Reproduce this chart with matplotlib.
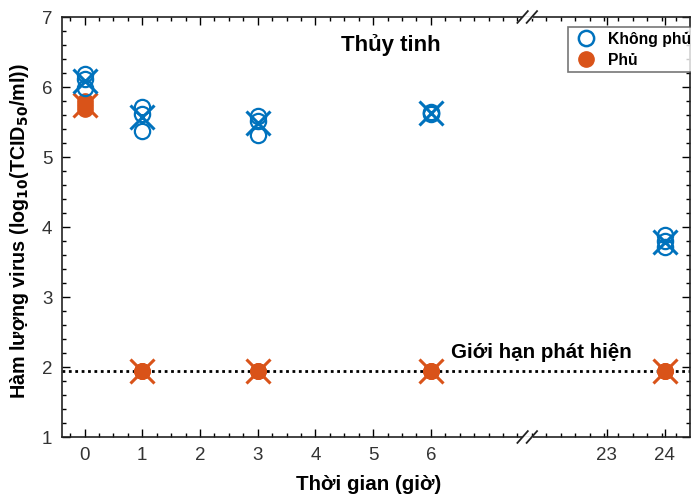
import matplotlib
matplotlib.use("Agg")
import matplotlib.pyplot as plt
import numpy as np
from matplotlib.lines import Line2D

plt.rcParams['font.family'] = ['Liberation Sans', 'DejaVu Sans']

# ---- data ----
times = [0, 1, 3, 6, 24]
uncoated_reps = [
    [6.19, 6.12, 5.98],
    [5.72, 5.62, 5.37],
    [5.58, 5.52, 5.31],
    [5.65, 5.63, 5.62],
    [3.88, 3.80, 3.72],
]
uncoated_mean = [6.08, 5.57, 5.48, 5.63, 3.79]
coated_reps = [
    [5.80, 5.75, 5.68],
    [1.95, 1.95, 1.95],
    [1.95, 1.95, 1.95],
    [1.95, 1.95, 1.95],
    [1.95, 1.95, 1.95],
]
coated_mean = [5.74, 1.95, 1.95, 1.95, 1.95]
lod = 1.95
xtick_vals = [0, 1, 2, 3, 4, 5, 6, 23, 24]
legend_labels = ['Không phủ', 'Phủ']

BLUE = '#0072BD'
ORANGE = '#D95319'


def pos(t):
    # broken axis: hours 0-6 linear, then 23-24 shifted
    return t if t <= 6 else t - 13.95


fig = plt.figure(figsize=(6.91, 4.99), dpi=100)
ax = fig.add_axes([62/691, 1-437/499, (690-62)/691, (437-17)/499])

ax.axhline(lod, color='black', ls=(0, (1, 1.3)), lw=2, zorder=1)

for t, reps, m in zip(times, coated_reps, coated_mean):
    x = pos(t)
    ax.plot([x], [m], marker='x', ms=17, mew=2.2, color=ORANGE, ls='none', zorder=2)
    ax.plot([x]*len(reps), reps, marker='o', ms=11, color=ORANGE, mec=ORANGE,
            ls='none', zorder=3)

for t, reps, m in zip(times, uncoated_reps, uncoated_mean):
    x = pos(t)
    ax.plot([x]*len(reps), reps, marker='o', ms=11, mfc='none', mec=BLUE, mew=1.6,
            ls='none', zorder=4)
    ax.plot([x], [m], marker='x', ms=17, mew=2.2, color=BLUE, ls='none', zorder=5)

ax.set_xlim(-0.39, 10.49)
ax.set_ylim(1, 7)
ax.set_xticks([pos(t) for t in xtick_vals])
ax.set_xticklabels([str(t) for t in xtick_vals])
ax.set_xticks(np.arange(-0.25, 10.5, 0.25), minor=True)
ax.set_yticks(range(1, 8))
ax.set_yticks(np.arange(1, 7.01, 0.2), minor=True)
ax.tick_params(which='both', direction='in', top=True, right=True,
               labelsize=13.5, labelcolor='#333333', width=1)
ax.tick_params(which='major', length=6, pad=7)
ax.tick_params(which='minor', length=3)
for s in ax.spines.values():
    s.set_linewidth(1.2)
    s.set_color('#222222')

# break marks
bx = 7.67
for yb in (0, 1):
    ax.plot([bx - 0.06, bx + 0.06], [yb, yb], transform=ax.get_xaxis_transform(),
            color='white', lw=2, clip_on=False, zorder=9)
    for dx in (-0.08, 0.08):
        ax.plot([bx + dx - 0.09, bx + dx + 0.09], [yb - 0.014, yb + 0.014],
                transform=ax.get_xaxis_transform(), color='#222222', lw=1.3,
                clip_on=False, zorder=10)

ax.text(391/691, 1-45/499, 'Thủy tinh', transform=fig.transFigure, ha='center',
        va='center', fontsize=16, fontweight='bold')
ax.text(541/691, 1-352/499, 'Giới hạn phát hiện', transform=fig.transFigure,
        ha='center', va='center', fontsize=14.8, fontweight='bold')

ax.set_xlabel('Thời gian (giờ)', fontsize=14.8, fontweight='bold')
ax.set_ylabel('Hàm lượng virus (log$_{\\mathbf{10}}$(TCID$_{\\mathbf{50}}$/ml))',
              fontsize=14.2, fontweight='bold')
ax.xaxis.set_label_coords((369-62)/628, -(485-437)/420)
ax.yaxis.set_label_coords(-(62-20)/628, (437-231)/420)
ax.xaxis.label.set_va('center')
ax.yaxis.label.set_va('center')

handles = [Line2D([], [], marker='o', ls='none', ms=11, mfc='none', mec=BLUE, mew=1.8),
           Line2D([], [], marker='o', ls='none', ms=11, color=ORANGE)]
leg = fig.legend(handles, legend_labels, loc='upper left',
                 bbox_to_anchor=(568/691, 1-27/499), bbox_transform=fig.transFigure,
                 borderaxespad=0, frameon=True, fancybox=False,
                 prop={'weight': 'bold', 'size': 11.3}, handletextpad=0.55,
                 labelspacing=0.38, borderpad=0.3, handlelength=1.7)
leg.get_frame().set_edgecolor('#555555')
leg.get_frame().set_linewidth(1.2)

fig.savefig('out.png', dpi=100)
